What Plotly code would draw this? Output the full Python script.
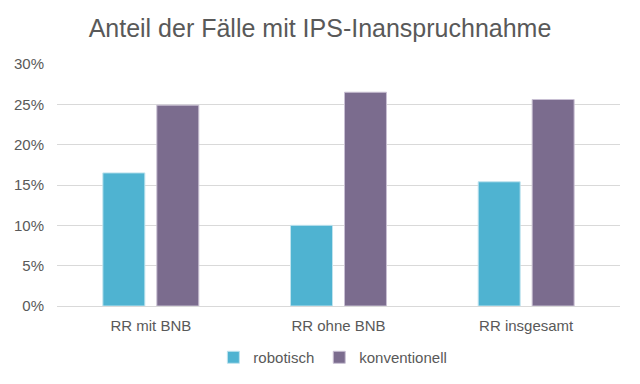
import plotly.graph_objects as go

categories = ["RR mit BNB", "RR ohne BNB", "RR insgesamt"]
robotisch = [0.165, 0.100, 0.154]
konventionell = [0.249, 0.265, 0.256]
tick_vals = [0, 0.05, 0.10, 0.15, 0.20, 0.25, 0.30]
tick_text = ["0%", "5%", "10%", "15%", "20%", "25%", "30%"]

fig = go.Figure()
fig.add_trace(go.Bar(name="robotisch", x=categories, y=robotisch,
                     marker=dict(color="#4FB3D1", line=dict(color="#BFE3EE", width=1))))
fig.add_trace(go.Bar(name="konventionell", x=categories, y=konventionell,
                     marker=dict(color="#7B6C8E", line=dict(color="#C9C0D3", width=1))))

fig.update_layout(
    width=640, height=384,
    margin=dict(l=49, r=28, t=56, b=86, autoexpand=False),
    paper_bgcolor="white", plot_bgcolor="white",
    font=dict(family="Liberation Sans, Arial, sans-serif", color="#595959", size=15),
    title=dict(text="Anteil der Fälle mit IPS-Inanspruchnahme", x=0.4875, xanchor="center",
               y=0.948, yanchor="middle", font=dict(size=25, color="#595959")),
    barmode="group", bargap=0.425, bargroupgap=0.222,
    legend=dict(orientation="h", x=0.49, xanchor="center", y=-0.213, yanchor="middle",
                font=dict(size=15, color="#595959"), itemwidth=30, traceorder="normal"),
    showlegend=True,
)
fig.update_yaxes(range=[0, 0.30], tickvals=tick_vals, ticktext=tick_text,
                 showgrid=True, gridcolor="#D9D9D9", gridwidth=1, zeroline=False,
                 showline=False, ticks="", ticklabelstandoff=12, automargin=False)
fig.update_xaxes(showline=True, linecolor="#D9D9D9", linewidth=1, ticks="",
                 showgrid=False, automargin=False, ticklabelstandoff=6)

fig.write_html("out.html")
